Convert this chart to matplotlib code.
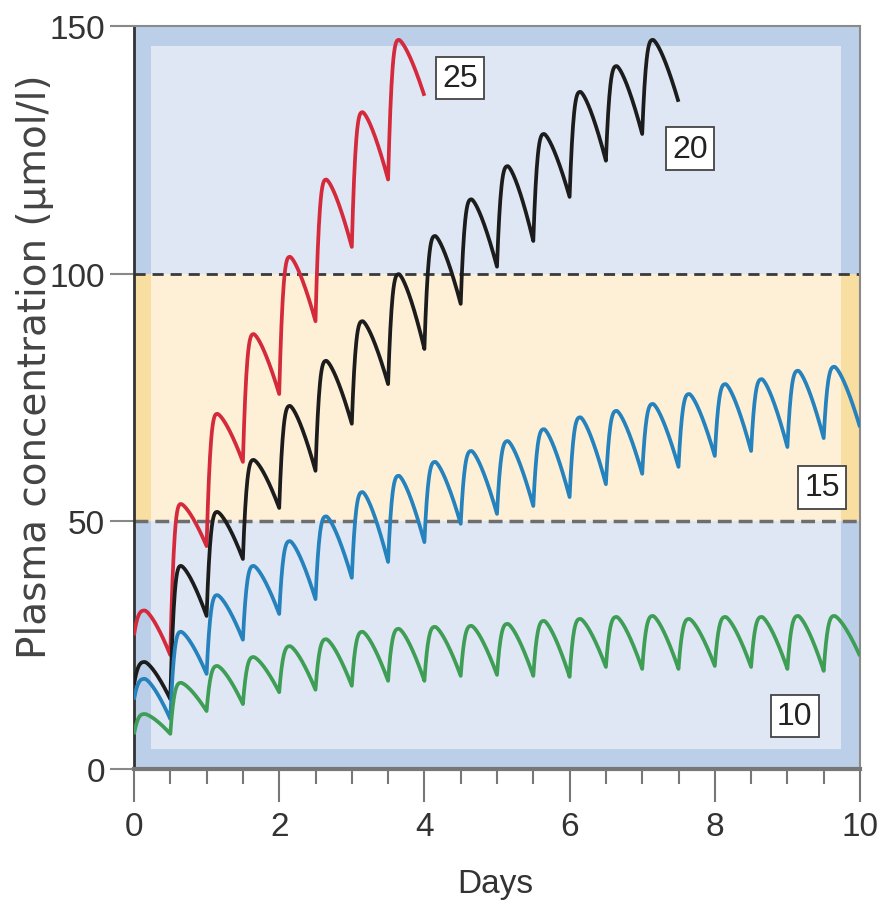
import numpy as np
import matplotlib
matplotlib.use("Agg")
import matplotlib.pyplot as plt
from matplotlib.patches import Rectangle

# ---------------- data ----------------
dose_interval = 0.5      # days between doses
peak_delay = 0.15        # days from dose to peak

dose_labels = ["25", "20", "15", "10"]

red_start = 27
red_peaks = [32, 53.5, 71.7, 87.8, 103.4, 119, 132.6, 147.2]
red_troughs = [23, 45, 62, 75.7, 90.4, 105.4, 119, 135.9]

black_start = 17
black_peaks = [21.6, 41, 51.9, 62.4, 73.3, 82.4, 90.4, 99.9, 107.6, 115,
               121.7, 128.2, 136.7, 141.9, 147.2]
black_troughs = [14.1, 30.9, 42.4, 52.7, 60.2, 69.7, 77.7, 84.8, 93.9, 101.4,
                 106.6, 115.5, 122.8, 128.2, 134.7]

blue_start = 14
blue_peaks = [18.2, 27.7, 35.1, 41, 46, 51, 55.9, 59.2, 62, 64.2, 66.2, 68.6,
              71, 72.3, 73.7, 75.7, 77.7, 78.7, 80.4, 81.2]
blue_troughs = [10.1, 19.2, 26.1, 31.3, 34.3, 38.6, 41.8, 45.8, 49.5, 51.5,
                53.1, 54.9, 57.5, 59.6, 61, 63.2, 64.2, 65, 66.8, 69]

green_start = 7
green_peaks = [11.1, 17.4, 20.8, 22.6, 24.8, 26.2, 27.7, 28.3, 28.7, 28.9,
               29.3, 29.9, 30.3, 30.7, 30.9, 30.3, 30.7, 30.7, 30.9, 30.9]
green_troughs = [7.1, 11.7, 13.1, 15.5, 16, 16.8, 17.8, 17.8, 18.8, 19,
                 18.8, 18.6, 20.6, 20.2, 20.2, 20.8, 20.6, 20.2, 19.8, 22.8]

therapeutic_low, therapeutic_high = 50, 100
x_ticks = [0, 2, 4, 6, 8, 10]
y_ticks = [0, 50, 100, 150]

colors = {"25": "#d42a3c", "20": "#1c1c1c", "15": "#2582bd", "10": "#3f9e55"}


def dosing_curve(start, peaks, troughs):
    ts, cs = [], []
    c0 = start
    for k, (p, tr) in enumerate(zip(peaks, troughs)):
        t0 = k * dose_interval
        u = np.linspace(0, 1, 30)
        ts.append(t0 + u * peak_delay)
        cs.append(c0 + (p - c0) * (1 - (1 - u) ** 3))
        v = np.linspace(0, 1, 60)[1:]
        ts.append(t0 + peak_delay + v * (dose_interval - peak_delay))
        cs.append(p - (p - tr) * v ** 1.4)
        c0 = tr
    return np.concatenate(ts), np.concatenate(cs)


fig = plt.figure(figsize=(8.83, 9.2), dpi=100)
ax = fig.add_axes([134 / 883, 1 - 770 / 920, (860 - 134) / 883, (770 - 27) / 920])
ax.set_xlim(0, 10)
ax.set_ylim(0, 150)

# background: outer frame, inner panel, therapeutic band
ax.set_facecolor("#bccfe9")
ax.add_patch(Rectangle((0.24, 4), 9.5, 142, facecolor="#dfe7f4", edgecolor="none", zorder=0))
ax.add_patch(Rectangle((0, therapeutic_low), 10, therapeutic_high - therapeutic_low,
                       facecolor="#f9dea2", edgecolor="none", zorder=0.5))
ax.add_patch(Rectangle((0.24, therapeutic_low), 9.5, therapeutic_high - therapeutic_low,
                       facecolor="#fdf0d6", edgecolor="none", zorder=0.6))
ax.axhline(therapeutic_high, color="#3a3a3a", lw=2, ls=(0, (4, 2.5)), zorder=1)
ax.axhline(therapeutic_low, color="#6e6e6e", lw=2.5, ls=(0, (4, 2)), zorder=1)

series = [("25", red_start, red_peaks, red_troughs),
          ("20", black_start, black_peaks, black_troughs),
          ("15", blue_start, blue_peaks, blue_troughs),
          ("10", green_start, green_peaks, green_troughs)]
for name, s, p, t in series:
    x, y = dosing_curve(s, p, t)
    ax.plot(x, y, color=colors[name], lw=2.7, solid_capstyle="butt", zorder=3)

label_pos = {"25": (4.49, 139.5), "20": (7.66, 125.2), "15": (9.48, 56.9), "10": (9.1, 10.7)}
tick_font = ["Liberation Sans Narrow", "Liberation Sans", "DejaVu Sans"]
for name in dose_labels:
    ax.text(*label_pos[name], name, ha="center", va="center", fontsize=23,
            family=tick_font, color="#222222", zorder=5,
            bbox=dict(boxstyle="square,pad=0.2", facecolor="white",
                      edgecolor="#444444", lw=1.3))

# spines and ticks
for side in ["top", "right"]:
    ax.spines[side].set_color("#8a8a8a")
    ax.spines[side].set_linewidth(1.5)
ax.spines["left"].set_color("#333333")
ax.spines["left"].set_linewidth(2)
ax.spines["bottom"].set_color("#777777")
ax.spines["bottom"].set_linewidth(3)

ax.set_xticks(x_ticks)
ax.set_xticks(np.arange(0, 10.01, dose_interval), minor=True)
ax.set_yticks(y_ticks)
ax.tick_params(axis="x", which="major", length=24, width=1.5, color="#777777",
               labelsize=24, labelcolor="#333333", pad=6)
ax.tick_params(axis="x", which="minor", length=11, width=1.5, color="#777777")
ax.tick_params(axis="y", which="major", length=17, width=1.5, color="#888888",
               labelsize=24, labelcolor="#333333", pad=4)
for lab in ax.get_xticklabels() + ax.get_yticklabels():
    lab.set_family(tick_font)

fig.text(35 / 883, 1 - 367 / 920, "Plasma concentration (µmol/l)", rotation=90,
         ha="center", va="center", fontsize=28, color="#444444",
         family=["DejaVu Sans"])
fig.text(495 / 883, 1 - 885 / 920, "Days", ha="center", va="center",
         fontsize=24, color="#333333", family=tick_font)

fig.savefig("out.png", dpi=100)
